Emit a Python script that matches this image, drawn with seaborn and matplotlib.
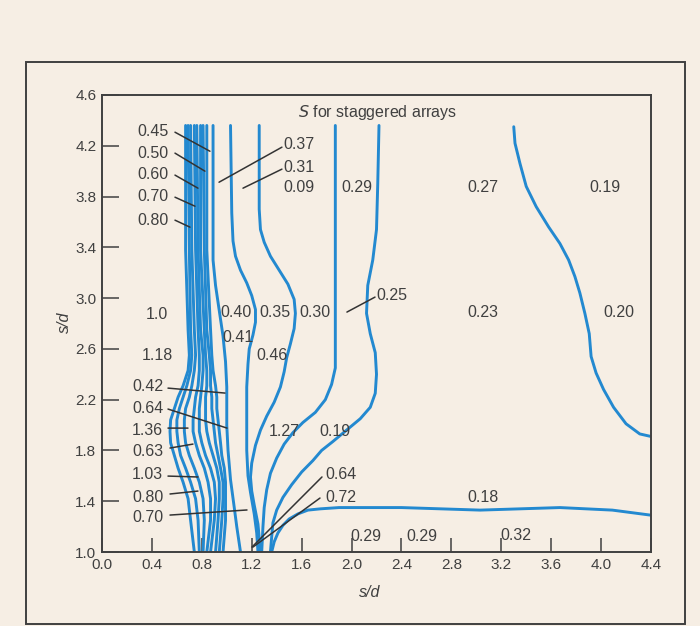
import numpy as np
import pandas as pd
import matplotlib
matplotlib.use("Agg")
import matplotlib.pyplot as plt
import seaborn as sns
from matplotlib.patches import Rectangle

BG = "#f6eee4"
INK = "#404040"
BLUE = "#2389d0"

# ---------------- data: iso-S contour curves -------------
bundle_y = [4.36, 3.38, 2.75, 2.55, 2.43, 2.31, 2.22, 2.13, 2.04, 1.95, 1.86,
            1.76, 1.66, 1.55, 1.42, 1.25, 1.00]
bundle_1_x = [0.67, 0.67, 0.69, 0.70, 0.69, 0.65, 0.61, 0.58, 0.55, 0.545, 0.55,
              0.58, 0.61, 0.65, 0.69, 0.71, 0.74]
bundle_2_x = [0.69, 0.70, 0.71, 0.72, 0.71, 0.68, 0.65, 0.62, 0.60, 0.60, 0.61,
              0.63, 0.67, 0.71, 0.75, 0.77, 0.78]
bundle_3_x = [0.71, 0.72, 0.74, 0.75, 0.74, 0.72, 0.70, 0.67, 0.66, 0.66, 0.67,
              0.70, 0.74, 0.78, 0.81, 0.82, 0.81]
bundle_4_x = [0.74, 0.75, 0.77, 0.78, 0.78, 0.77, 0.75, 0.74, 0.73, 0.73, 0.75,
              0.78, 0.82, 0.85, 0.87, 0.87, 0.84]
bundle_5_x = [0.76, 0.77, 0.79, 0.81, 0.81, 0.80, 0.79, 0.78, 0.78, 0.78, 0.80,
              0.83, 0.87, 0.90, 0.91, 0.90, 0.87]
bundle_6_x = [0.79, 0.79, 0.82, 0.83, 0.84, 0.84, 0.83, 0.83, 0.83, 0.84, 0.86,
              0.89, 0.92, 0.94, 0.94, 0.93, 0.91]
bundle_7_x = [0.81, 0.82, 0.84, 0.86, 0.87, 0.87, 0.88, 0.88, 0.89, 0.90, 0.91,
              0.93, 0.95, 0.97, 0.97, 0.96, 0.94]
bundle_8_x = [0.84, 0.84, 0.87, 0.88, 0.89, 0.91, 0.92, 0.92, 0.93, 0.94, 0.95,
              0.96, 0.98, 0.99, 0.99, 0.99, 0.97]

curve_a_x = [0.89, 0.89, 0.91, 0.94, 0.97, 0.99, 1.00, 1.00, 1.01, 1.03, 1.06, 1.08, 1.11]
curve_a_y = [4.36, 3.30, 3.10, 2.90, 2.70, 2.50, 2.30, 2.00, 1.80, 1.57, 1.35, 1.20, 1.00]

curve_b_x = [1.03, 1.04, 1.05, 1.07, 1.11, 1.16, 1.20, 1.23, 1.23, 1.21, 1.18, 1.17,
             1.16, 1.16, 1.16, 1.17, 1.19, 1.22, 1.24, 1.25]
curve_b_y = [4.36, 3.67, 3.45, 3.33, 3.22, 3.12, 3.02, 2.91, 2.81, 2.71, 2.60, 2.48,
             2.30, 2.09, 1.80, 1.60, 1.47, 1.30, 1.15, 1.00]

curve_c_x = [1.26, 1.26, 1.27, 1.30, 1.35, 1.42, 1.49, 1.54, 1.55, 1.54, 1.51, 1.48,
             1.46, 1.43, 1.38, 1.32, 1.27, 1.23, 1.20, 1.19, 1.20, 1.22, 1.25, 1.27]
curve_c_y = [4.36, 3.70, 3.54, 3.44, 3.33, 3.22, 3.11, 2.99, 2.88, 2.76, 2.64, 2.53,
             2.42, 2.30, 2.18, 2.07, 1.96, 1.84, 1.70, 1.59, 1.48, 1.37, 1.22, 1.00]

curve_d_x = [1.87, 1.87, 1.87, 1.87, 1.84, 1.79, 1.71, 1.61, 1.53, 1.46, 1.40, 1.35,
             1.32, 1.30, 1.29, 1.28]
curve_d_y = [4.36, 3.40, 2.60, 2.45, 2.32, 2.20, 2.10, 2.02, 1.94, 1.85, 1.74, 1.62,
             1.49, 1.35, 1.20, 1.00]

curve_e_x = [2.22, 2.21, 2.20, 2.17, 2.13, 2.12, 2.15, 2.19, 2.20, 2.19, 2.15, 2.07,
             1.96, 1.85, 1.76, 1.69, 1.60, 1.52, 1.45, 1.40, 1.37, 1.36, 1.35]
curve_e_y = [4.36, 3.90, 3.54, 3.30, 3.10, 2.88, 2.72, 2.57, 2.40, 2.25, 2.14, 2.05,
             1.96, 1.87, 1.80, 1.72, 1.63, 1.53, 1.43, 1.33, 1.23, 1.12, 1.00]

curve_r_x = [3.30, 3.31, 3.35, 3.40, 3.48, 3.58, 3.67, 3.74, 3.79, 3.83, 3.87, 3.905,
             3.92, 3.96, 4.02, 4.10, 4.20, 4.31, 4.40]
curve_r_y = [4.35, 4.22, 4.06, 3.88, 3.72, 3.56, 3.43, 3.30, 3.17, 3.04, 2.88, 2.72,
             2.54, 2.41, 2.28, 2.14, 2.01, 1.93, 1.91]

curve_f_x = [1.36, 1.38, 1.41, 1.45, 1.50, 1.57, 1.65, 1.75, 1.90, 2.13, 2.40, 3.03,
             3.67, 4.09, 4.40]
curve_f_y = [1.00, 1.08, 1.15, 1.21, 1.26, 1.30, 1.33, 1.34, 1.35, 1.35, 1.35, 1.33,
             1.35, 1.33, 1.29]

# ---------------- region labels (S values) ----------------
labels_right_text = ["0.45", "0.50", "0.60", "0.70", "0.80",
                     "0.42", "0.64", "1.36", "0.63", "1.03", "0.80", "0.70"]
labels_right_x = [0.53, 0.53, 0.53, 0.53, 0.53, 0.49, 0.49, 0.49, 0.49, 0.49, 0.49, 0.49]
labels_right_y = [4.31, 4.14, 3.97, 3.80, 3.61, 2.30, 2.13, 1.96, 1.79, 1.61, 1.43, 1.27]

labels_center_text = ["1.0", "1.18", "0.29", "0.27", "0.19", "0.40", "0.35", "0.30",
                      "0.23", "0.20", "0.41", "0.46", "1.27", "0.19", "0.18", "0.29", "0.32"]
labels_center_x = [0.44, 0.44, 2.04, 3.05, 4.03, 1.07, 1.39, 1.71,
                   3.05, 4.14, 1.09, 1.36, 1.46, 1.87, 3.05, 2.56, 3.32]
labels_center_y = [2.87, 2.55, 3.87, 3.87, 3.87, 2.89, 2.89, 2.89,
                   2.89, 2.89, 2.69, 2.55, 1.95, 1.95, 1.43, 1.12, 1.13]

labels_left_text = ["0.37", "0.31", "0.09", "0.25", "0.64", "0.72", "0.29"]
labels_left_x = [1.45, 1.45, 1.45, 2.20, 1.79, 1.79, 1.99]
labels_left_y = [4.21, 4.03, 3.87, 3.02, 1.61, 1.43, 1.12]

# leader lines: (from x, from y, to x, to y)
leaders = [
    (0.585, 4.307, 0.865, 4.157), (0.585, 4.142, 0.825, 4.000),
    (0.585, 3.969, 0.769, 3.866), (0.585, 3.795, 0.745, 3.724),
    (0.585, 3.614, 0.705, 3.559), (1.442, 4.189, 0.938, 3.913),
    (1.442, 4.016, 1.130, 3.866), (1.963, 2.890, 2.188, 3.008),
    (0.529, 2.291, 0.986, 2.252), (0.529, 2.126, 1.002, 1.976),
    (0.529, 1.976, 0.689, 1.976), (0.545, 1.819, 0.729, 1.850),
    (0.529, 1.598, 0.769, 1.591), (0.545, 1.457, 0.769, 1.480),
    (0.545, 1.291, 1.162, 1.331), (1.763, 1.591, 1.202, 1.039),
    (1.747, 1.425, 1.210, 1.039),
]

x_ticks = [0.0, 0.4, 0.8, 1.2, 1.6, 2.0, 2.4, 2.8, 3.2, 3.6, 4.0, 4.4]
y_ticks = [1.0, 1.4, 1.8, 2.2, 2.6, 3.0, 3.4, 3.8, 4.2, 4.6]

# ---------------- build long-form table ----------------
curves = {
    "b1": (bundle_1_x, bundle_y), "b2": (bundle_2_x, bundle_y),
    "b3": (bundle_3_x, bundle_y), "b4": (bundle_4_x, bundle_y),
    "b5": (bundle_5_x, bundle_y), "b6": (bundle_6_x, bundle_y),
    "b7": (bundle_7_x, bundle_y), "b8": (bundle_8_x, bundle_y),
    "a": (curve_a_x, curve_a_y), "b": (curve_b_x, curve_b_y),
    "c": (curve_c_x, curve_c_y), "d": (curve_d_x, curve_d_y),
    "e": (curve_e_x, curve_e_y), "r": (curve_r_x, curve_r_y),
    "f": (curve_f_x, curve_f_y),
}
rows = []
for name, (xs, ys) in curves.items():
    for i, (xv, yv) in enumerate(zip(xs, ys)):
        rows.append({"curve": name, "order": i, "x": xv, "y": yv})
df = pd.DataFrame(rows)

# ---------------- plot ----------------
sns.set_theme(style="ticks")
plt.rcParams["font.family"] = ["Liberation Sans", "DejaVu Sans"]

fig = plt.figure(figsize=(7.0, 6.26), dpi=100, facecolor=BG)
ax = fig.add_axes([102 / 700, 1 - 552 / 626, (651 - 102) / 700, (552 - 95) / 626])
ax.set_facecolor(BG)

sns.lineplot(data=df, x="x", y="y", units="curve", estimator=None, sort=False,
             color=BLUE, linewidth=2.1, ax=ax, legend=False,
             solid_capstyle="round", solid_joinstyle="round")

ax.set_xlim(0.0, 4.4)
ax.set_ylim(1.0, 4.6)
ax.set_xticks(x_ticks)
ax.set_yticks(y_ticks)
ax.set_xticklabels([f"{v:.1f}" for v in x_ticks])
ax.set_yticklabels([f"{v:.1f}" for v in y_ticks])
ax.tick_params(axis="x", direction="in", length=10, width=1.1, color=INK,
               labelcolor=INK, labelsize=11, pad=4)
ax.tick_params(axis="y", direction="in", length=12, width=1.1, color=INK,
               labelcolor=INK, labelsize=11, pad=4)
for sp in ax.spines.values():
    sp.set_color(INK)
    sp.set_linewidth(1.4)

ax.set_xlabel("s/d", fontsize=11.5, color=INK, fontstyle="italic")
ax.set_ylabel("s/d", fontsize=11.5, color=INK, fontstyle="italic")
ax.xaxis.set_label_coords(0.488, -0.072)
ax.yaxis.set_label_coords(-0.055, 0.503)

ax.text(2.21, 4.465, "$\\it{S}$ for staggered arrays", ha="center", va="center",
        fontsize=11.5, color=INK)

for t, xv, yv in zip(labels_right_text, labels_right_x, labels_right_y):
    ax.text(xv, yv, t, ha="right", va="center", fontsize=11.5, color=INK)
for t, xv, yv in zip(labels_center_text, labels_center_x, labels_center_y):
    ax.text(xv, yv, t, ha="center", va="center", fontsize=11.5, color=INK)
for t, xv, yv in zip(labels_left_text, labels_left_x, labels_left_y):
    ax.text(xv, yv, t, ha="left", va="center", fontsize=11.5, color=INK)

for x0, y0, x1, y1 in leaders:
    ax.annotate("", xy=(x1, y1), xytext=(x0, y0),
                arrowprops=dict(arrowstyle="-", color="#333333", lw=1.1,
                                shrinkA=0, shrinkB=0))

# outer frame of the printed figure
fig.add_artist(Rectangle((26 / 700, 2 / 626), (685 - 26) / 700, (624 - 62) / 626,
                         transform=fig.transFigure, fill=False,
                         edgecolor=INK, linewidth=1.4))

fig.savefig("out.png", dpi=100, facecolor=BG)
